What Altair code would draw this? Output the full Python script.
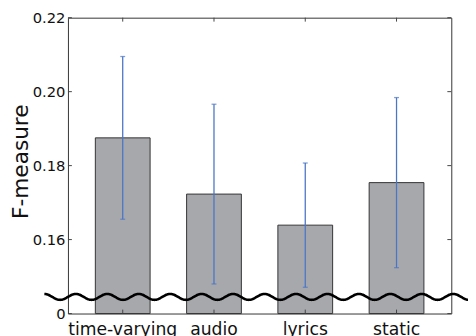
import altair as alt
import pandas as pd
import numpy as np

# ---- data ----
categories = ["time-varying", "audio", "lyrics", "static"]
means = [0.1875, 0.1723, 0.1639, 0.1754]
errors = [0.0220, 0.0243, 0.0168, 0.0230]
y_tick_values = [0.14, 0.16, 0.18, 0.20, 0.22]
y_tick_labels = ["0", "0.16", "0.18", "0.20", "0.22"]

# ---- layout / style ----
W, H = 390, 301
Y_MIN, Y_MAX = 0.14, 0.22
FONT = "DejaVu Sans"
BAR_FILL = "#a7a8ac"
ERR_COLOR = "#4a76c6"
TICK_LEN = 4

df = pd.DataFrame({"cat": categories, "mean": means, "err": errors})
df["lo"] = df["mean"] - df["err"]
df["hi"] = df["mean"] + df["err"]
df["base"] = Y_MIN

ticks_df = pd.DataFrame({"v": y_tick_values})

# decorative axis-break wave (pixel x, data y)
wave_px = np.arange(-24, W + 18, 0.5)
wave_center = 0.1445
wave_amp = 0.0008
wave_period = 32.0
wave_df = pd.DataFrame({
    "px": wave_px,
    "wy": wave_center + wave_amp * np.cos(2 * np.pi * (wave_px + 24) / wave_period),
})

# label expression built from the tick arrays
expr = "''"
for v, lab in reversed(list(zip(y_tick_values, y_tick_labels))):
    expr = f"abs(datum.value - {v}) < 1e-6 ? '{lab}' : ({expr})"

yscale = alt.Scale(domain=[Y_MIN, Y_MAX], zero=False, nice=False)
xscale = alt.Scale(domain=categories, paddingInner=0.4, paddingOuter=0.3)

yaxis = alt.Axis(
    title="F-measure", values=y_tick_values, labelExpr=expr,
    domain=False, ticks=False, tickSize=0, grid=False,
    labelFont=FONT, labelFontSize=15, labelColor="#111", labelPadding=3,
    titleFont=FONT, titleFontSize=22, titleFontWeight="normal", titleColor="#111",
    titleAngle=270, titleBaseline="alphabetic", titleAlign="center",
    titleX=-41, titleY=146,
)
xaxis = alt.Axis(
    title=None, domain=False, ticks=False, tickSize=0, grid=False, labelAngle=0,
    labelFont=FONT, labelFontSize=17.5, labelColor="#111",
    labelBaseline="alphabetic", labelPadding=21,
)

X = alt.X("cat:N", sort=categories, scale=xscale, axis=xaxis)

bars = alt.Chart(df).mark_bar(fill=BAR_FILL, stroke="#333", strokeWidth=1).encode(
    x=X,
    y=alt.Y("mean:Q", scale=yscale, axis=yaxis),
    y2="base:Q",
)

err = alt.Chart(df).mark_rule(color=ERR_COLOR, strokeWidth=1.3).encode(
    x=X,
    y=alt.Y("lo:Q", scale=yscale, axis=yaxis),
    y2="hi:Q",
)

caps_lo = alt.Chart(df).mark_tick(color=ERR_COLOR, size=5, thickness=1.3).encode(
    x=X, y=alt.Y("lo:Q", scale=yscale, axis=yaxis)
)
caps_hi = alt.Chart(df).mark_tick(color=ERR_COLOR, size=5, thickness=1.3).encode(
    x=X, y=alt.Y("hi:Q", scale=yscale, axis=yaxis)
)

top_ticks = alt.Chart(df).mark_rule(color="#444", strokeWidth=1).encode(
    x=X, y=alt.value(0), y2=alt.value(TICK_LEN)
)
bot_ticks = alt.Chart(df).mark_rule(color="#444", strokeWidth=1).encode(
    x=X, y=alt.value(H), y2=alt.value(H - TICK_LEN)
)
left_ticks = alt.Chart(ticks_df).mark_rule(color="#444", strokeWidth=1).encode(
    y=alt.Y("v:Q", scale=yscale, axis=yaxis), x=alt.value(0), x2=alt.value(TICK_LEN)
)
right_ticks = alt.Chart(ticks_df).mark_rule(color="#444", strokeWidth=1).encode(
    y=alt.Y("v:Q", scale=yscale, axis=yaxis), x=alt.value(W), x2=alt.value(W - TICK_LEN)
)

inner = alt.layer(bars, err, caps_lo, caps_hi, top_ticks, bot_ticks, left_ticks, right_ticks)

wave = alt.Chart(wave_df).mark_line(color="black", strokeWidth=2.6, clip=False).encode(
    x=alt.X("px:Q", scale=None, axis=None),
    y=alt.Y("wy:Q", scale=yscale, axis=yaxis),
)

chart = alt.layer(inner, wave).resolve_scale(x="independent").properties(
    width=W, height=H,
    autosize=alt.AutoSizeParams(type="none"),
    padding={"left": 61, "top": 7, "right": 17, "bottom": 20},
    background="white",
).configure_view(stroke="#333", strokeWidth=1)

chart.save("out.html", embed_options={"renderer": "svg", "actions": False})
